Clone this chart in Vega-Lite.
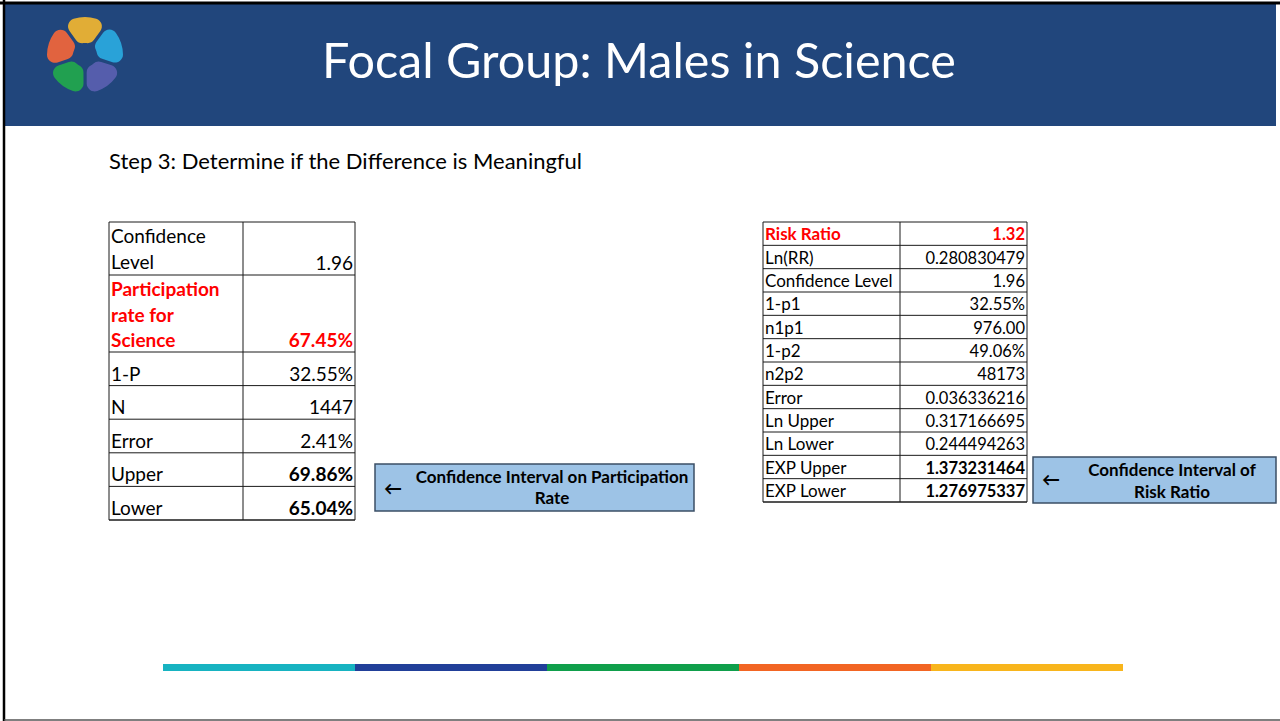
{
  "$schema": "https://vega.github.io/schema/vega-lite/v6.json",
  "width": 1280,
  "height": 721,
  "padding": 0,
  "autosize": {"type": "none"},
  "background": "white",
  "config": {
    "view": {"stroke": null},
    "font": "Lato",
    "axis": {"disable": true},
    "legend": {"disable": true}
  },
  "datasets": {
    "one": [{}],
    "left": [
      {"r": 1, "label": "Confidence\nLevel", "value": "1.96"},
      {"r": 2, "label": "Participation\nrate for\nScience", "value": "67.45%"},
      {"r": 3, "label": "1-P", "value": "32.55%"},
      {"r": 4, "label": "N", "value": "1447"},
      {"r": 5, "label": "Error", "value": "2.41%"},
      {"r": 6, "label": "Upper", "value": "69.86%"},
      {"r": 7, "label": "Lower", "value": "65.04%"}
    ],
    "right": [
      {"r": 1, "label": "Risk Ratio", "value": "1.32"},
      {"r": 2, "label": "Ln(RR)", "value": "0.280830479"},
      {"r": 3, "label": "Confidence Level", "value": "1.96"},
      {"r": 4, "label": "1-p1", "value": "32.55%"},
      {"r": 5, "label": "n1p1", "value": "976.00"},
      {"r": 6, "label": "1-p2", "value": "49.06%"},
      {"r": 7, "label": "n2p2", "value": "48173"},
      {"r": 8, "label": "Error", "value": "0.036336216"},
      {"r": 9, "label": "Ln Upper", "value": "0.317166695"},
      {"r": 10, "label": "Ln Lower", "value": "0.244494263"},
      {"r": 11, "label": "EXP Upper", "value": "1.373231464"},
      {"r": 12, "label": "EXP Lower", "value": "1.276975337"}
    ],
    "seg": [{"seg": 1}, {"seg": 2}, {"seg": 3}, {"seg": 4}, {"seg": 5}],
    "logo": [
      {"k": 1, "part": "yellow", "w": 1},
      {"k": 2, "part": "cyan", "w": 1},
      {"k": 3, "part": "blue", "w": 1},
      {"k": 4, "part": "green", "w": 1},
      {"k": 5, "part": "orange", "w": 1}
    ]
  },
  "resolve": {"scale": {"x": "independent", "y": "independent", "color": "independent", "theta": "independent"}},
  "layer": [
    {
      "data": {"name": "one"},
      "mark": {"type": "rect", "fill": "#21467C"},
      "encoding": {
        "x": {"datum": 5, "type": "quantitative", "scale": {"domain": [0, 1280], "range": [0, 1280], "zero": false, "nice": false}},
        "x2": {"datum": 1276},
        "y": {"datum": 4, "type": "quantitative", "scale": {"domain": [0, 721], "range": [0, 721], "zero": false, "nice": false}},
        "y2": {"datum": 126}
      }
    },
    {
      "data": {"name": "one"},
      "mark": {"type": "rule", "color": "#000000", "strokeWidth": 3},
      "encoding": {
        "x": {"datum": 0, "type": "quantitative", "scale": {"domain": [0, 1280], "range": [0, 1280], "zero": false, "nice": false}},
        "x2": {"datum": 1280},
        "y": {"datum": 3, "type": "quantitative", "scale": {"domain": [0, 721], "range": [0, 721], "zero": false, "nice": false}}
      }
    },
    {
      "data": {"name": "one"},
      "mark": {"type": "rule", "color": "#000000", "strokeWidth": 2.5},
      "encoding": {
        "x": {"datum": 4, "type": "quantitative", "scale": {"domain": [0, 1280], "range": [0, 1280], "zero": false, "nice": false}},
        "y": {"datum": 0, "type": "quantitative", "scale": {"domain": [0, 721], "range": [0, 721], "zero": false, "nice": false}},
        "y2": {"datum": 721}
      }
    },
    {
      "data": {"name": "one"},
      "mark": {"type": "rule", "color": "#555555", "strokeWidth": 1.5},
      "encoding": {
        "x": {"datum": 4, "type": "quantitative", "scale": {"domain": [0, 1280], "range": [0, 1280], "zero": false, "nice": false}},
        "x2": {"datum": 1280},
        "y": {"datum": 720, "type": "quantitative", "scale": {"domain": [0, 721], "range": [0, 721], "zero": false, "nice": false}}
      }
    },
    {
      "data": {"name": "logo"},
      "mark": {"type": "arc", "innerRadius": 12, "outerRadius": 38, "padAngle": 0.08, "cornerRadius": 8, "opacity": 0.92},
      "encoding": {
        "theta": {"field": "w", "type": "quantitative", "stack": true, "scale": {"range": [-0.63, 5.65]}},
        "order": {"field": "k", "type": "quantitative"},
        "color": {"field": "part", "type": "nominal", "scale": {"domain": ["yellow", "cyan", "blue", "green", "orange"], "range": ["#F2B630", "#2AAAE0", "#5A5FB0", "#22A84C", "#F2663A"]}},
        "x": {"datum": 85, "type": "quantitative", "scale": {"domain": [0, 1280], "range": [0, 1280], "zero": false, "nice": false}},
        "y": {"datum": 55, "type": "quantitative", "scale": {"domain": [0, 721], "range": [0, 721], "zero": false, "nice": false}}
      }
    },
    {
      "data": {"values": [{"t": "Focal Group: Males in Science"}]},
      "mark": {"type": "text", "align": "center", "baseline": "alphabetic", "fontSize": 48.5, "color": "#FFFFFF"},
      "encoding": {
        "text": {"field": "t"},
        "x": {"datum": 639, "type": "quantitative", "scale": {"domain": [0, 1280], "range": [0, 1280], "zero": false, "nice": false}},
        "y": {"datum": 78, "type": "quantitative", "scale": {"domain": [0, 721], "range": [0, 721], "zero": false, "nice": false}}
      }
    },
    {
      "data": {"values": [{"t": "Step 3: Determine if the Difference is Meaningful"}]},
      "mark": {"type": "text", "align": "left", "baseline": "alphabetic", "fontSize": 22, "color": "#000000"},
      "encoding": {
        "text": {"field": "t"},
        "x": {"datum": 109, "type": "quantitative", "scale": {"domain": [0, 1280], "range": [0, 1280], "zero": false, "nice": false}},
        "y": {"datum": 169, "type": "quantitative", "scale": {"domain": [0, 721], "range": [0, 721], "zero": false, "nice": false}}
      }
    },
    {
      "data": {"name": "one"},
      "mark": {"type": "rect", "fill": null, "fillOpacity": 0, "stroke": "#1a1a1a", "strokeWidth": 1},
      "encoding": {
        "x": {"datum": 109, "type": "quantitative", "scale": {"domain": [0, 1280], "range": [0, 1280], "zero": false, "nice": false}},
        "x2": {"datum": 355},
        "y": {"datum": 0, "type": "quantitative", "scale": {"domain": [0, 1, 2, 7], "range": [222, 275, 352, 520], "zero": false, "nice": false}},
        "y2": {"datum": 7}
      }
    },
    {
      "data": {"name": "left"},
      "mark": {"type": "rule", "color": "#1a1a1a", "strokeWidth": 1},
      "encoding": {
        "x": {"datum": 109, "type": "quantitative", "scale": {"domain": [0, 1280], "range": [0, 1280], "zero": false, "nice": false}},
        "x2": {"datum": 355},
        "y": {"field": "r", "type": "quantitative", "scale": {"domain": [0, 1, 2, 7], "range": [222, 275, 352, 520], "zero": false, "nice": false}}
      }
    },
    {
      "data": {"name": "one"},
      "mark": {"type": "rule", "color": "#1a1a1a", "strokeWidth": 1},
      "encoding": {
        "x": {"datum": 243, "type": "quantitative", "scale": {"domain": [0, 1280], "range": [0, 1280], "zero": false, "nice": false}},
        "y": {"datum": 0, "type": "quantitative", "scale": {"domain": [0, 1, 2, 7], "range": [222, 275, 352, 520], "zero": false, "nice": false}},
        "y2": {"datum": 7}
      }
    },
    {
      "data": {"name": "left"},
      "transform": [{"filter": "datum.r >= 3"}],
      "mark": {"type": "text", "align": "left", "baseline": "alphabetic", "dy": -5, "fontSize": 19, "color": "#000000"},
      "encoding": {
        "text": {"field": "label"},
        "x": {"datum": 111, "type": "quantitative", "scale": {"domain": [0, 1280], "range": [0, 1280], "zero": false, "nice": false}},
        "y": {"field": "r", "type": "quantitative", "scale": {"domain": [0, 1, 2, 7], "range": [222, 275, 352, 520], "zero": false, "nice": false}}
      }
    },
    {
      "data": {"name": "left"},
      "transform": [{"filter": "datum.r == 1"}],
      "mark": {"type": "text", "align": "left", "baseline": "alphabetic", "dy": -32, "fontSize": 19, "lineBreak": "\n", "lineHeight": 26, "color": "#000000"},
      "encoding": {
        "text": {"field": "label"},
        "x": {"datum": 111, "type": "quantitative", "scale": {"domain": [0, 1280], "range": [0, 1280], "zero": false, "nice": false}},
        "y": {"field": "r", "type": "quantitative", "scale": {"domain": [0, 1, 2, 7], "range": [222, 275, 352, 520], "zero": false, "nice": false}}
      }
    },
    {
      "data": {"name": "left"},
      "transform": [{"filter": "datum.r == 2"}],
      "mark": {"type": "text", "align": "left", "baseline": "alphabetic", "dy": -56, "fontSize": 19, "fontWeight": "bold", "lineBreak": "\n", "lineHeight": 25.5, "color": "#FF0000"},
      "encoding": {
        "text": {"field": "label"},
        "x": {"datum": 111, "type": "quantitative", "scale": {"domain": [0, 1280], "range": [0, 1280], "zero": false, "nice": false}},
        "y": {"field": "r", "type": "quantitative", "scale": {"domain": [0, 1, 2, 7], "range": [222, 275, 352, 520], "zero": false, "nice": false}}
      }
    },
    {
      "data": {"name": "left"},
      "transform": [{"filter": "datum.r != 2 && datum.r < 6"}],
      "mark": {"type": "text", "align": "right", "baseline": "alphabetic", "dy": -5, "fontSize": 19, "color": "#000000"},
      "encoding": {
        "text": {"field": "value"},
        "x": {"datum": 353, "type": "quantitative", "scale": {"domain": [0, 1280], "range": [0, 1280], "zero": false, "nice": false}},
        "y": {"field": "r", "type": "quantitative", "scale": {"domain": [0, 1, 2, 7], "range": [222, 275, 352, 520], "zero": false, "nice": false}}
      }
    },
    {
      "data": {"name": "left"},
      "transform": [{"filter": "datum.r == 2 || datum.r >= 6"}],
      "mark": {"type": "text", "align": "right", "baseline": "alphabetic", "dy": -5, "fontSize": 19, "fontWeight": "bold"},
      "encoding": {
        "text": {"field": "value"},
        "color": {"condition": {"test": "datum.r == 2", "value": "#FF0000"}, "value": "#000000"},
        "x": {"datum": 353, "type": "quantitative", "scale": {"domain": [0, 1280], "range": [0, 1280], "zero": false, "nice": false}},
        "y": {"field": "r", "type": "quantitative", "scale": {"domain": [0, 1, 2, 7], "range": [222, 275, 352, 520], "zero": false, "nice": false}}
      }
    },
    {
      "data": {"name": "one"},
      "mark": {"type": "rect", "fill": null, "fillOpacity": 0, "stroke": "#1a1a1a", "strokeWidth": 1},
      "encoding": {
        "x": {"datum": 763, "type": "quantitative", "scale": {"domain": [0, 1280], "range": [0, 1280], "zero": false, "nice": false}},
        "x2": {"datum": 1027},
        "y": {"datum": 0, "type": "quantitative", "scale": {"domain": [0, 12], "range": [222, 502], "zero": false, "nice": false}},
        "y2": {"datum": 12}
      }
    },
    {
      "data": {"name": "right"},
      "mark": {"type": "rule", "color": "#1a1a1a", "strokeWidth": 1},
      "encoding": {
        "x": {"datum": 763, "type": "quantitative", "scale": {"domain": [0, 1280], "range": [0, 1280], "zero": false, "nice": false}},
        "x2": {"datum": 1027},
        "y": {"field": "r", "type": "quantitative", "scale": {"domain": [0, 12], "range": [222, 502], "zero": false, "nice": false}}
      }
    },
    {
      "data": {"name": "one"},
      "mark": {"type": "rule", "color": "#1a1a1a", "strokeWidth": 1},
      "encoding": {
        "x": {"datum": 900, "type": "quantitative", "scale": {"domain": [0, 1280], "range": [0, 1280], "zero": false, "nice": false}},
        "y": {"datum": 0, "type": "quantitative", "scale": {"domain": [0, 12], "range": [222, 502], "zero": false, "nice": false}},
        "y2": {"datum": 12}
      }
    },
    {
      "data": {"name": "right"},
      "transform": [{"filter": "datum.r != 1"}],
      "mark": {"type": "text", "align": "left", "baseline": "alphabetic", "dy": -5, "fontSize": 17, "color": "#000000"},
      "encoding": {
        "text": {"field": "label"},
        "x": {"datum": 765, "type": "quantitative", "scale": {"domain": [0, 1280], "range": [0, 1280], "zero": false, "nice": false}},
        "y": {"field": "r", "type": "quantitative", "scale": {"domain": [0, 12], "range": [222, 502], "zero": false, "nice": false}}
      }
    },
    {
      "data": {"name": "right"},
      "transform": [{"filter": "datum.r == 1"}],
      "mark": {"type": "text", "align": "left", "baseline": "alphabetic", "dy": -5, "fontSize": 17, "fontWeight": "bold", "color": "#FF0000"},
      "encoding": {
        "text": {"field": "label"},
        "x": {"datum": 765, "type": "quantitative", "scale": {"domain": [0, 1280], "range": [0, 1280], "zero": false, "nice": false}},
        "y": {"field": "r", "type": "quantitative", "scale": {"domain": [0, 12], "range": [222, 502], "zero": false, "nice": false}}
      }
    },
    {
      "data": {"name": "right"},
      "transform": [{"filter": "datum.r > 1 && datum.r < 11"}],
      "mark": {"type": "text", "align": "right", "baseline": "alphabetic", "dy": -5, "fontSize": 16.5, "color": "#000000"},
      "encoding": {
        "text": {"field": "value"},
        "x": {"datum": 1025, "type": "quantitative", "scale": {"domain": [0, 1280], "range": [0, 1280], "zero": false, "nice": false}},
        "y": {"field": "r", "type": "quantitative", "scale": {"domain": [0, 12], "range": [222, 502], "zero": false, "nice": false}}
      }
    },
    {
      "data": {"name": "right"},
      "transform": [{"filter": "datum.r == 1 || datum.r >= 11"}],
      "mark": {"type": "text", "align": "right", "baseline": "alphabetic", "dy": -5, "fontSize": 16.5, "fontWeight": "bold"},
      "encoding": {
        "text": {"field": "value"},
        "color": {"condition": {"test": "datum.r == 1", "value": "#FF0000"}, "value": "#000000"},
        "x": {"datum": 1025, "type": "quantitative", "scale": {"domain": [0, 1280], "range": [0, 1280], "zero": false, "nice": false}},
        "y": {"field": "r", "type": "quantitative", "scale": {"domain": [0, 12], "range": [222, 502], "zero": false, "nice": false}}
      }
    },
    {
      "data": {"name": "one"},
      "mark": {"type": "rect", "fill": "#9DC3E6", "stroke": "#3B4F66", "strokeWidth": 1.5},
      "encoding": {
        "x": {"datum": 375, "type": "quantitative", "scale": {"domain": [0, 1280], "range": [0, 1280], "zero": false, "nice": false}},
        "x2": {"datum": 694},
        "y": {"datum": 464, "type": "quantitative", "scale": {"domain": [0, 721], "range": [0, 721], "zero": false, "nice": false}},
        "y2": {"datum": 511}
      }
    },
    {
      "data": {"name": "one"},
      "mark": {"type": "rect", "fill": "#9DC3E6", "stroke": "#3B4F66", "strokeWidth": 1.5},
      "encoding": {
        "x": {"datum": 1033, "type": "quantitative", "scale": {"domain": [0, 1280], "range": [0, 1280], "zero": false, "nice": false}},
        "x2": {"datum": 1276},
        "y": {"datum": 457, "type": "quantitative", "scale": {"domain": [0, 721], "range": [0, 721], "zero": false, "nice": false}},
        "y2": {"datum": 503}
      }
    },
    {
      "data": {"values": [{"t": "Confidence Interval on Participation\nRate"}]},
      "mark": {"type": "text", "align": "center", "baseline": "alphabetic", "fontSize": 17, "fontWeight": "bold", "lineBreak": "\n", "lineHeight": 21, "color": "#000000"},
      "encoding": {
        "text": {"field": "t"},
        "x": {"datum": 552, "type": "quantitative", "scale": {"domain": [0, 1280], "range": [0, 1280], "zero": false, "nice": false}},
        "y": {"datum": 483, "type": "quantitative", "scale": {"domain": [0, 721], "range": [0, 721], "zero": false, "nice": false}}
      }
    },
    {
      "data": {"values": [{"t": "Confidence Interval of\nRisk Ratio"}]},
      "mark": {"type": "text", "align": "center", "baseline": "alphabetic", "fontSize": 17, "fontWeight": "bold", "lineBreak": "\n", "lineHeight": 22, "color": "#000000"},
      "encoding": {
        "text": {"field": "t"},
        "x": {"datum": 1172, "type": "quantitative", "scale": {"domain": [0, 1280], "range": [0, 1280], "zero": false, "nice": false}},
        "y": {"datum": 476, "type": "quantitative", "scale": {"domain": [0, 721], "range": [0, 721], "zero": false, "nice": false}}
      }
    },
    {
      "data": {"values": [{"t": "←"}]},
      "mark": {"type": "text", "align": "center", "baseline": "middle", "fontSize": 18, "fontWeight": "bold", "color": "#000000"},
      "encoding": {
        "text": {"field": "t"},
        "x": {"datum": 393, "type": "quantitative", "scale": {"domain": [0, 1280], "range": [0, 1280], "zero": false, "nice": false}},
        "y": {"datum": 490, "type": "quantitative", "scale": {"domain": [0, 721], "range": [0, 721], "zero": false, "nice": false}}
      }
    },
    {
      "data": {"values": [{"t": "←"}]},
      "mark": {"type": "text", "align": "center", "baseline": "middle", "fontSize": 18, "fontWeight": "bold", "color": "#000000"},
      "encoding": {
        "text": {"field": "t"},
        "x": {"datum": 1051, "type": "quantitative", "scale": {"domain": [0, 1280], "range": [0, 1280], "zero": false, "nice": false}},
        "y": {"datum": 481, "type": "quantitative", "scale": {"domain": [0, 721], "range": [0, 721], "zero": false, "nice": false}}
      }
    },
    {
      "data": {"name": "seg"},
      "mark": {"type": "rect"},
      "encoding": {
        "x": {"field": "seg", "type": "ordinal", "scale": {"type": "band", "domain": [1, 2, 3, 4, 5], "range": [163, 1123], "paddingInner": 0, "paddingOuter": 0}},
        "y": {"datum": 664, "type": "quantitative", "scale": {"domain": [0, 721], "range": [0, 721], "zero": false, "nice": false}},
        "y2": {"datum": 671},
        "color": {"field": "seg", "type": "nominal", "scale": {"domain": [1, 2, 3, 4, 5], "range": ["#17B3C1", "#213F99", "#0F9F4B", "#F26523", "#F8B51C"]}}
      }
    }
  ]
}
